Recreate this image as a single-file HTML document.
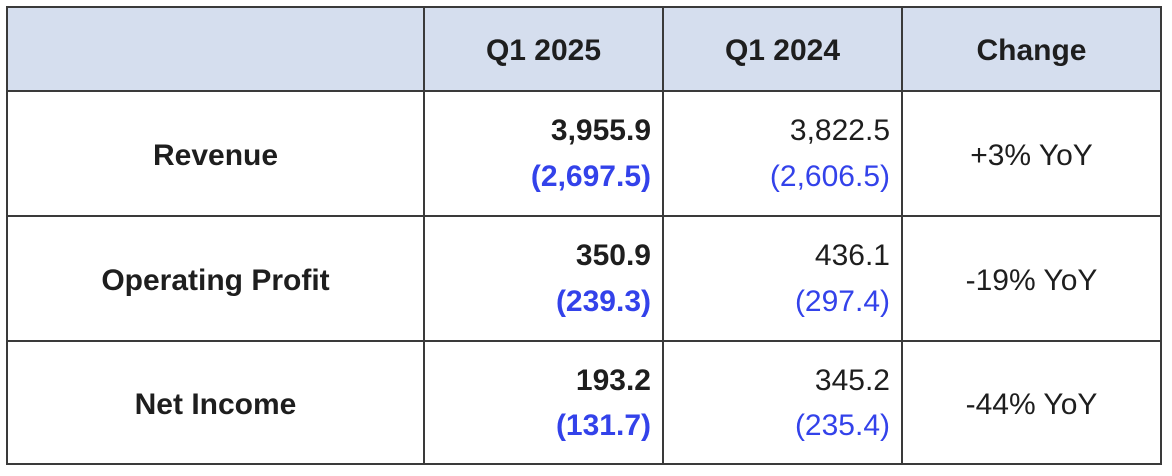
<!DOCTYPE html>
<html><head><style>
body{margin:0;width:1172px;height:476px;background:#fff;position:relative;font-family:"Liberation Sans",Arial,sans-serif;color:#1e1e1e;overflow:hidden}
.h{position:absolute;left:7px;top:7px;width:1154px;height:84px;background:#d5deee}
.v,.hl{position:absolute;background:#3a3a3a}
.v{width:2px;top:6px;height:459px}
.hl{height:2px;left:6px;width:1156px}
.t{position:absolute;font-size:30px;line-height:30px}
.b{font-weight:bold}
.c{text-align:center}
.r{text-align:right}
.blue{color:#3342ea}
</style></head><body>
<div class="h"></div>
<div class="hl" style="top:6px"></div>
<div class="hl" style="top:90px"></div>
<div class="hl" style="top:215px"></div>
<div class="hl" style="top:340px"></div>
<div class="hl" style="top:463px"></div>
<div class="v" style="left:6px"></div>
<div class="v" style="left:423px"></div>
<div class="v" style="left:662px"></div>
<div class="v" style="left:901px"></div>
<div class="v" style="left:1160px"></div>

<div class="t b c" style="left:424px;width:239px;top:36px">Q1 2025</div>
<div class="t b c" style="left:663px;width:239px;top:36px">Q1 2024</div>
<div class="t b c" style="left:902px;width:259px;top:36px">Change</div>

<div class="t b c" style="left:7px;width:417px;top:141px">Revenue</div>
<div class="t b c" style="left:7px;width:417px;top:266px">Operating Profit</div>
<div class="t b c" style="left:7px;width:417px;top:390px">Net Income</div>

<div class="t b r" style="left:424px;width:227px;top:116px">3,955.9</div>
<div class="t b r blue" style="left:424px;width:227px;top:162px">(2,697.5)</div>
<div class="t r" style="left:663px;width:227px;top:116px">3,822.5</div>
<div class="t r blue" style="left:663px;width:227px;top:162px">(2,606.5)</div>
<div class="t c" style="left:902px;width:259px;top:141px">+3% YoY</div>

<div class="t b r" style="left:424px;width:227px;top:241px">350.9</div>
<div class="t b r blue" style="left:424px;width:227px;top:287px">(239.3)</div>
<div class="t r" style="left:663px;width:227px;top:241px">436.1</div>
<div class="t r blue" style="left:663px;width:227px;top:287px">(297.4)</div>
<div class="t c" style="left:902px;width:259px;top:266px">-19% YoY</div>

<div class="t b r" style="left:424px;width:227px;top:366px">193.2</div>
<div class="t b r blue" style="left:424px;width:227px;top:411px">(131.7)</div>
<div class="t r" style="left:663px;width:227px;top:366px">345.2</div>
<div class="t r blue" style="left:663px;width:227px;top:411px">(235.4)</div>
<div class="t c" style="left:902px;width:259px;top:390px">-44% YoY</div>
</body></html>
